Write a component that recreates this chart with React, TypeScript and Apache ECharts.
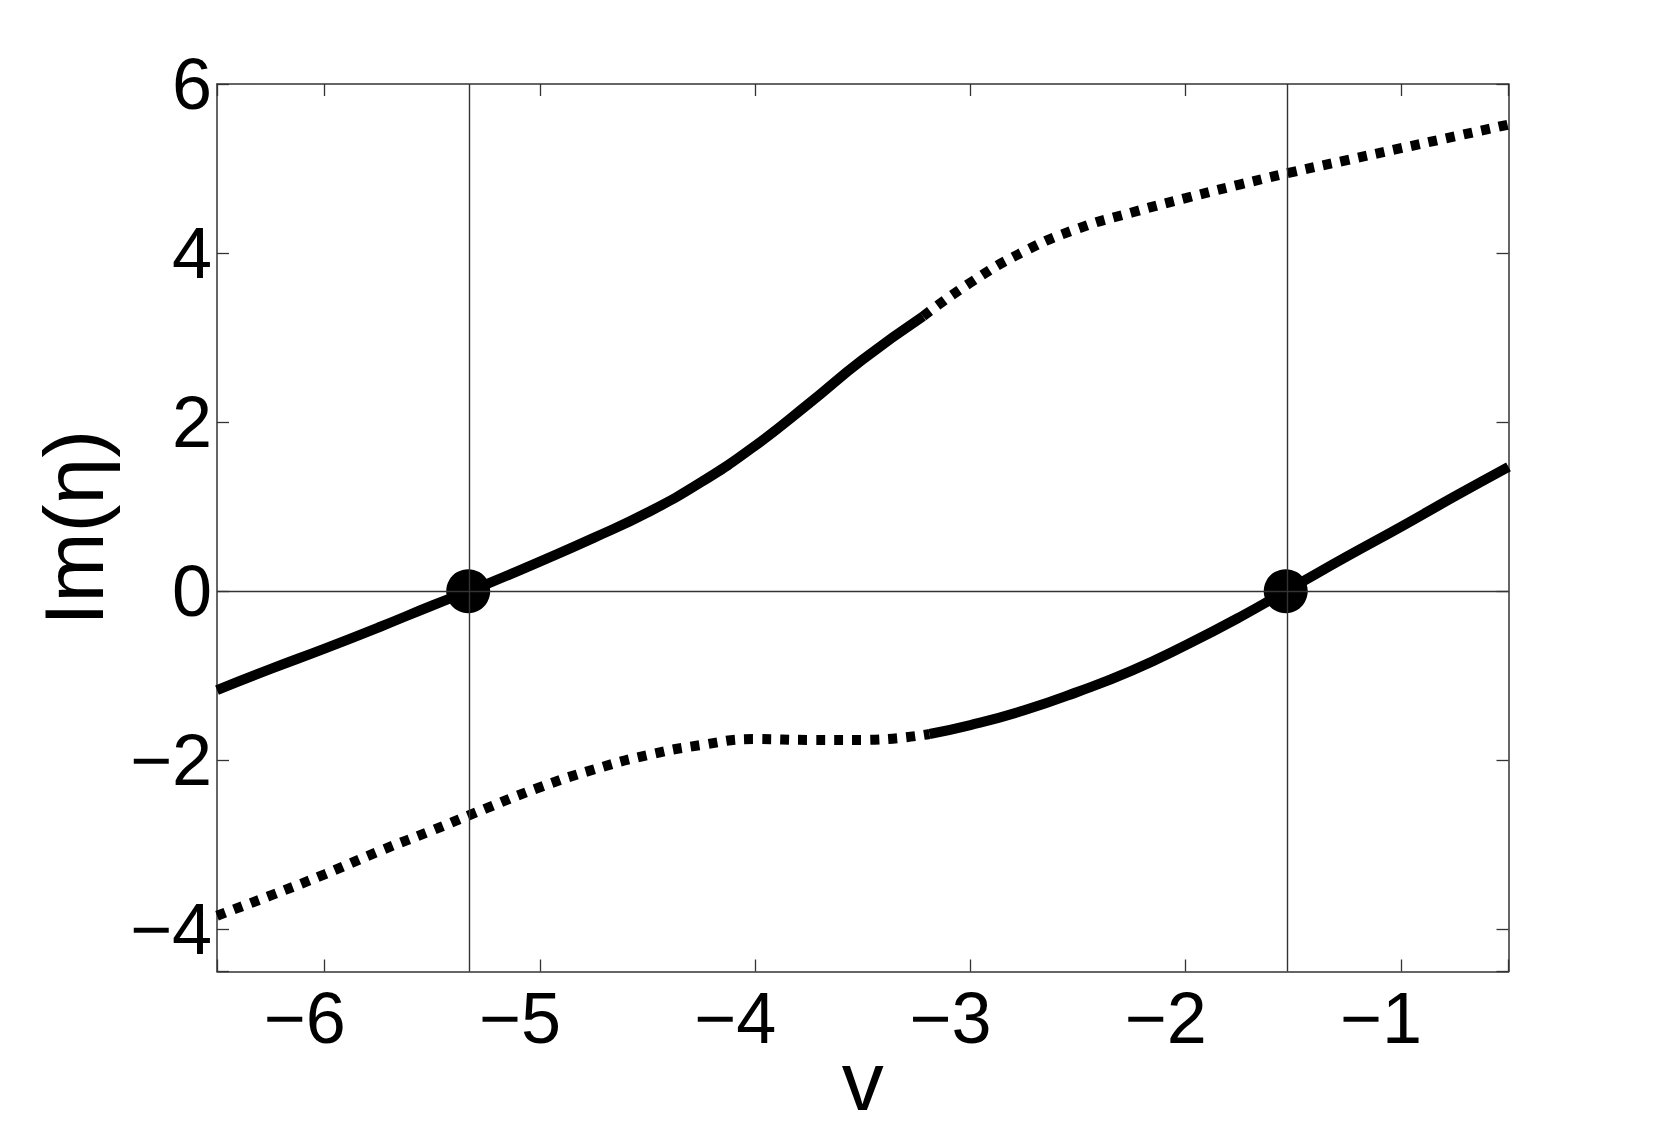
import React, { useEffect, useRef } from "react";
import * as echarts from "echarts";

// Axis ranges
const xMin = -6.5;
const xMax = -0.5;
const yMin = -4.5;
const yMax = 6;

// Upper branch (solid part, then dotted part)
const upperSolidV = [-6.5, -6.25, -6.0, -5.75, -5.5, -5.25, -5.0, -4.75, -4.5, -4.25, -4.0, -3.75, -3.5, -3.22];
const upperSolidIm = [-1.17, -0.92, -0.68, -0.43, -0.17, 0.08, 0.35, 0.63, 0.93, 1.29, 1.72, 2.22, 2.74, 3.25];

const upperDottedV = [-3.22, -3.0, -2.75, -2.5, -2.25, -2.0, -1.75, -1.5, -1.25, -1.0, -0.75, -0.5];
const upperDottedIm = [3.25, 3.65, 4.02, 4.29, 4.48, 4.65, 4.81, 4.96, 5.1, 5.24, 5.38, 5.52];

// Lower branch (dotted part, then solid part)
const lowerDottedV = [-6.5, -6.25, -6.0, -5.75, -5.5, -5.25, -5.0, -4.75, -4.5, -4.25, -4.0, -3.75, -3.5, -3.19];
const lowerDottedIm = [-3.84, -3.6, -3.35, -3.08, -2.83, -2.57, -2.32, -2.11, -1.94, -1.82, -1.75, -1.76, -1.76, -1.69];

const lowerSolidV = [-3.19, -3.0, -2.75, -2.5, -2.25, -2.0, -1.75, -1.5, -1.25, -1.0, -0.75, -0.5];
const lowerSolidIm = [-1.69, -1.585, -1.41, -1.19, -0.94, -0.64, -0.31, 0.05, 0.41, 0.76, 1.12, 1.47];

// Roots (Im(eta) = 0)
const rootV = [-5.333, -1.535];
const rootIm = [0, 0];

const FONT = "'Liberation Sans', Arial, Helvetica, sans-serif";
const FRAME = "#333333";

const zip = (xs: number[], ys: number[]) => xs.map((x, i) => [x, ys[i]]);

const fmt = (v: number) => {
  if (Math.abs(v - Math.round(v)) > 1e-9) return "";
  const r = Math.round(v);
  return r < 0 ? "\u2212" + Math.abs(r) : String(r);
};

export default function App() {
  const ref = useRef<HTMLDivElement>(null);

  useEffect(() => {
    document.body.style.margin = "0";
    const chart = echarts.init(ref.current as HTMLDivElement, undefined, { renderer: "svg" });

    const axisLine = { show: true, onZero: false, lineStyle: { color: FRAME, width: 1.5 } };
    const axisTick = { show: true, inside: true, length: 12, lineStyle: { color: FRAME, width: 1.3 } };

    const curveBase = {
      type: "line" as const,
      showSymbol: false,
      symbol: "none",
      smooth: 0.5,
      z: 2,
      silent: true,
    };

    const option: any = {
      animation: false,
      backgroundColor: "#ffffff",
      grid: {
        left: 217,
        top: 84,
        width: 1291.5,
        height: 887.5,
        containLabel: false,
        outerBoundsMode: "none",
      },
      xAxis: [
        {
          type: "value",
          min: xMin,
          max: xMax,
          splitNumber: 6,
          position: "bottom",
          axisLine,
          axisTick,
          splitLine: { show: false },
          axisLabel: {
            margin: 10,
            fontSize: 72,
            color: "#000",
            fontFamily: FONT,
            formatter: fmt,
            padding: [0, 40, 0, 0],
          },
          name: "v",
          nameLocation: "middle",
          nameGap: 67,
          nameMoveOverlap: false,
          nameTextStyle: { fontSize: 84, color: "#000", fontFamily: FONT },
        },
        {
          type: "value",
          min: xMin,
          max: xMax,
          splitNumber: 6,
          position: "top",
          axisLine,
          axisTick,
          splitLine: { show: false },
          axisLabel: { show: false },
        },
      ],
      yAxis: [
        {
          type: "value",
          min: yMin,
          max: yMax,
          splitNumber: 5,
          position: "left",
          axisLine,
          axisTick,
          splitLine: { show: false },
          axisLabel: { margin: 5, fontSize: 72, color: "#000", fontFamily: FONT, formatter: fmt },
          name: "Im(\u03b7)",
          nameLocation: "middle",
          nameRotate: 90,
          nameGap: 101,
          nameMoveOverlap: false,
          nameTextStyle: { fontSize: 84, color: "#000", fontFamily: FONT },
        },
        {
          type: "value",
          min: yMin,
          max: yMax,
          splitNumber: 5,
          position: "right",
          axisLine,
          axisTick,
          splitLine: { show: false },
          axisLabel: { show: false },
        },
      ],
      series: [
        {
          type: "line",
          data: zip(rootV, rootIm),
          symbol: "none",
          lineStyle: { opacity: 0 },
          z: 1,
          silent: true,
          markLine: {
            silent: true,
            symbol: ["none", "none"],
            label: { show: false },
            lineStyle: { color: FRAME, width: 1.4, type: "solid" },
            emphasis: { disabled: true },
            data: [...rootV.map((v) => ({ xAxis: v })), { yAxis: 0 }],
          },
        },
        {
          ...curveBase,
          name: "upper solid",
          data: zip(upperSolidV, upperSolidIm),
          lineStyle: { color: "#000", width: 10, type: "solid", cap: "butt" },
        },
        {
          ...curveBase,
          name: "upper dotted",
          data: zip(upperDottedV, upperDottedIm),
          lineStyle: { color: "#000", width: 10, type: [9, 9], cap: "butt" },
        },
        {
          ...curveBase,
          name: "lower dotted",
          data: zip(lowerDottedV, lowerDottedIm),
          lineStyle: { color: "#000", width: 10, type: [9, 9], cap: "butt" },
        },
        {
          ...curveBase,
          name: "lower solid",
          data: zip(lowerSolidV, lowerSolidIm),
          lineStyle: { color: "#000", width: 10, type: "solid", cap: "butt" },
        },
        {
          type: "scatter",
          name: "roots",
          data: zip(rootV, rootIm),
          symbol: "circle",
          symbolSize: 44,
          itemStyle: { color: "#000", opacity: 1 },
          z: 3,
          silent: true,
        },
      ],
    };

    chart.setOption(option);
    return () => chart.dispose();
  }, []);

  return <div ref={ref} style={{ width: 1666, height: 1127 }} />;
}
